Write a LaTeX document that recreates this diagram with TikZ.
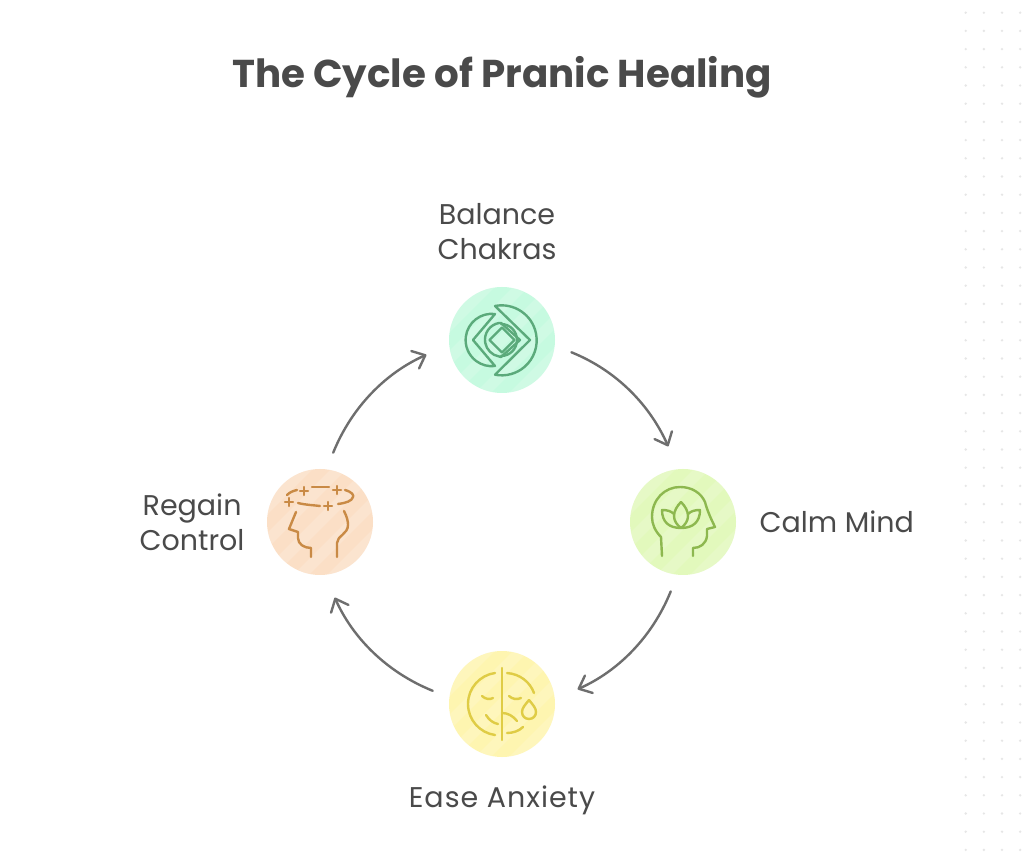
\documentclass[tikz,border=0pt]{standalone}
\usepackage{fontspec}
\setmainfont{Poppins}
\usetikzlibrary{arrows.meta,positioning}
\definecolor{inkgray}{HTML}{4A4A4A}
\definecolor{arrowgray}{HTML}{6E6E6E}
\definecolor{dotgray}{HTML}{E6E6E6}
\definecolor{balfill}{HTML}{C6FAE0}
\definecolor{balline}{HTML}{5BAA7B}
\definecolor{calmfill}{HTML}{E2F9BC}
\definecolor{calmline}{HTML}{8DB84F}
\definecolor{easefill}{HTML}{FEF5B0}
\definecolor{easeline}{HTML}{DFCC45}
\definecolor{regfill}{HTML}{FBDFC6}
\definecolor{regline}{HTML}{C98A45}
\begin{document}
\begin{tikzpicture}[x=1pt,y=1pt,
    stage/.style={circle,inner sep=0pt,outer sep=0pt,minimum size=106pt,fill=#1,
      path picture={\foreach \k in {-3,...,3}
        \draw[white,opacity=.16,line width=11pt]
          ([shift={(\k*34-70,-70)}]path picture bounding box.center) -- ++(140,140);}},
    caption/.style={align=center,text=inkgray,font=\fontsize{28.5}{35}\selectfont},
    cyclearrow/.style={draw=arrowgray,line width=2.4pt,line cap=round,
      -{Straight Barb[length=11pt,width=19pt,round]},shorten <=18pt,shorten >=25pt},
    icon/.style={line width=2.4pt,line cap=round,line join=round}]
  \useasboundingbox (0,0) rectangle (1024,862);
  \fill[white] (0,0) rectangle (1024,862);
  \foreach \i in {0,...,3}
    \foreach \j in {0,...,46}
      \fill[dotgray] (965.7+\i*18.15,849.3-\j*18.2) circle (1.3);

  \node[text=inkgray,font=\fontsize{38.8}{44}\selectfont\bfseries] (title) at (502,785) {The Cycle of Pranic Healing};

  \node[stage=balfill] (bal) at (502,522) {};
  \node[stage=calmfill] (calm) at (683,340) {};
  \node[stage=easefill] (ease) at (502,158) {};
  \node[stage=regfill] (reg) at (320,340) {};

  \node[caption,above=24pt of bal,xshift=-5pt] (ballabel) {Balance\\Chakras};
  \node[caption,right=20pt of calm] (calmlabel) {Calm Mind};
  \node[caption,below=25pt of ease] (easelabel) {\addfontfeature{LetterSpace=3.5}Ease Anxiety};
  \node[caption,left=19pt of reg] (reglabel) {Regain\\Control};

  \draw[cyclearrow] (bal.-6.5) to[out=-22,in=114] (calm.95);
  \draw[cyclearrow] (calm.-96.5) to[out=-112,in=24] (ease.5);
  \draw[cyclearrow] (ease.173.5) to[out=158,in=-66] (reg.-85);
  \draw[cyclearrow] (reg.83.5) to[out=68,in=-156] (bal.185);

  \begin{scope}[shift={(bal)},icon,draw=balline]
    \draw (-7,34) arc (101:-101:35) -- (28,0) -- cycle;
    \draw (-7,26) arc (83:277:26.2) -- (-29,0) -- cycle;
    \draw (0,12.5) -- (12.5,0) -- (0,-12.5) -- (-12.5,0) -- cycle;
    \draw (-3,17) arc (100:260:17) -- (-1,-17) -- (18,0) -- (-1,17) -- cycle;
    \draw (-1,16) arc (90:-90:16);
  \end{scope}

  \begin{scope}[shift={(calm)},icon,draw=calmline]
    \draw (-21,-34) -- (-22,-15) .. controls (-28,-9) and (-31,-2) .. (-31,5)
      .. controls (-31,23) and (-18,35) .. (-3,35)
      .. controls (9,35) and (18,29) .. (22,20)
      .. controls (24,12) and (28,3) .. (32,-5) -- (24,-7) -- (24,-14)
      .. controls (23,-22) and (17,-26) .. (10,-26) -- (10,-34);
    \draw (-2,20) .. controls (-6,16) and (-9,11) .. (-9,6)
      .. controls (-9,1) and (-6,-3) .. (-2,-6)
      .. controls (2,-3) and (5,1) .. (5,6)
      .. controls (5,11) and (2,16) .. (-2,20);
    \draw (-2,-6) .. controls (-14,-6) and (-21,0) .. (-21,12)
      .. controls (-16,12) and (-12,11) .. (-9,8);
    \draw (-2,-6) .. controls (10,-6) and (17,0) .. (17,12)
      .. controls (12,12) and (8,11) .. (5,8);
  \end{scope}

  \begin{scope}[shift={(ease)},icon,draw=easeline]
    \draw (0,36) -- (0,-36);
    \draw (-7,31) .. controls (-22,29) and (-34,16) .. (-34,0)
      .. controls (-34,-16) and (-22,-29) .. (-7,-31);
    \draw (5,31) .. controls (18,30) and (28,22) .. (32,11);
    \draw (5,-29) .. controls (11,-29) and (17,-27) .. (21,-23);
    \draw (-16,-11) .. controls (-13,-16) and (-9,-19) .. (-4,-20);
    \draw (0,-9) .. controls (6,-9) and (11,-12) .. (15,-17);
    \draw (-20,8) .. controls (-17,5) and (-12,4) .. (-9,6);
    \draw (7,8) .. controls (10,5) and (15,4) .. (19,6);
    \draw (27,4) .. controls (31,-1) and (34,-4) .. (34,-8)
      .. controls (34,-12) and (31,-15) .. (27,-15)
      .. controls (23,-15) and (20,-12) .. (20,-8)
      .. controls (20,-4) and (23,-1) .. (27,4);
  \end{scope}

  \begin{scope}[shift={(reg)},icon,draw=regline]
    \draw (-33,27) .. controls (-30,30) and (-27,31) .. (-23,32);
    \draw (-8,35) -- (9,35);
    \draw (25,32) .. controls (32,30) and (34,27) .. (33,25)
      .. controls (32,21) and (26,19) .. (18,18);
    \draw (-22,19) .. controls (-14,17) and (-8,17) .. (0,16);
    \foreach \px/\py in {-16/31,17/32,-31/20,8/16}
      \draw (\px-4,\py) -- (\px+4,\py) (\px,\py-4) -- (\px,\py+4);
    \draw (-24,10) -- (-31,-7) -- (-22,-10) -- (-22,-16)
      .. controls (-22,-22) and (-16,-26) .. (-9,-26) -- (-9,-35);
    \draw (24,11) .. controls (27,5) and (28,1) .. (28,-3)
      .. controls (28,-12) and (17,-14) .. (17,-21) -- (17,-35);
  \end{scope}
\end{tikzpicture}
\end{document}
